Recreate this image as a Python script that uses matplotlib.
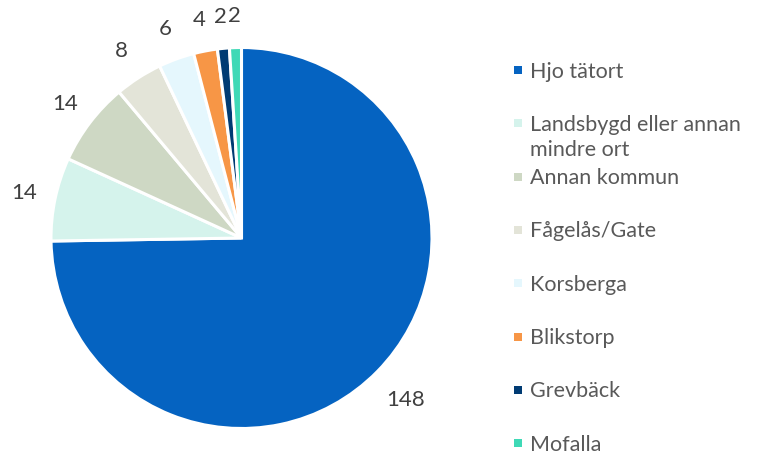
import matplotlib
matplotlib.use("Agg")
import matplotlib.pyplot as plt
from matplotlib.patches import Rectangle

# data
places = ["Hjo tätort", "Landsbygd eller annan\nmindre ort", "Annan kommun",
          "Fågelås/Gate", "Korsberga", "Blikstorp", "Grevbäck", "Mofalla"]
counts = [148, 14, 14, 8, 6, 4, 2, 2]
colors = ["#0563C1", "#D5F3EC", "#CED8C4", "#E3E4D8",
          "#E5F7FD", "#F79646", "#003B73", "#3FD9B6"]

plt.rcParams['font.family'] = ['Lato', 'DejaVu Sans']

W, H = 762, 455
fig = plt.figure(figsize=(W / 100, H / 100), dpi=100)

# pie axes (center ~ (241, 238) px, radius ~190 px)
cx, cy, r = 241.5, 238, 190.5
ax = fig.add_axes([(cx - r) / W, (H - cy - r) / H, 2 * r / W, 2 * r / H])

total = sum(counts)
wedges, texts, autotexts = ax.pie(
    counts, colors=colors, startangle=90, counterclock=False,
    autopct=lambda p: '%d' % round(p * total / 100), pctdistance=1.165,
    wedgeprops=dict(edgecolor='white', linewidth=2.2),
    textprops=dict(color='#404040', fontsize=16))
# push the big label a bit further out like the original
x, y = autotexts[0].get_position()
autotexts[0].set_position((x * 1.04, y * 1.04))

ax.set_xlim(-1, 1)
ax.set_ylim(-1, 1)
ax.set_aspect('equal')
ax.axis('off')

# legend drawn by hand (the wrapped entry does not push the others down)
y0, step = 70, 53.3
for i, (name, col) in enumerate(zip(places, colors)):
    yc = y0 + i * step
    fig.patches.append(Rectangle(((513.5) / W, (H - yc - 4) / H), 8 / W, 8 / H,
                                 transform=fig.transFigure, facecolor=col,
                                 edgecolor='none'))
    fig.text(530 / W, (H - yc + 8.5) / H, name, fontsize=15.5, color='#595959',
             va='top', ha='left', linespacing=1.3)

fig.savefig("out.png", dpi=100)
